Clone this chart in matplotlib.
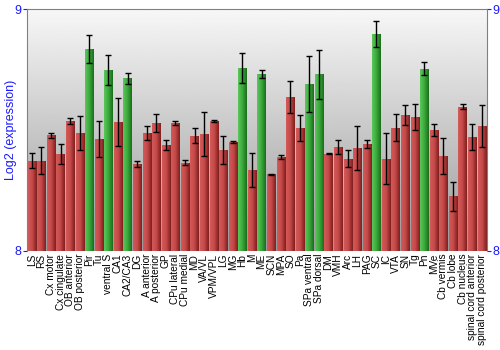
import numpy as np
import matplotlib
matplotlib.use("Agg")
import matplotlib.pyplot as plt
from matplotlib.colors import LinearSegmentedColormap

plt.rcParams['font.family'] = ['Liberation Sans', 'DejaVu Sans']

# 脑区名称
regions = ["LS", "RS", "Cx motor", "Cx cingulate", "OB anterior", "OB posterior",
           "Pir", "Tu", "ventral S", "CA1", "CA2/CA3", "DG", "A anterior",
           "A posterior", "GP", "CPu lateral", "CPu medial", "MD", "VA/VL",
           "VPM/VPL", "LG", "MG", "Hb", "M", "ME", "SCN", "MPA", "SO", "Pa",
           "SPa ventral", "SPa dorsal", "DM", "VMH", "Arc", "LH", "PAG", "SC",
           "IC", "VTA", "SN", "Tg", "Pn", "MVe", "Cb vermis", "Cb lobe",
           "Cb nucleus", "spinal cord anterior", "spinal cord posterior"]

# 表达量 (log2)
expression = [8.373, 8.373, 8.479, 8.402, 8.538, 8.490, 8.835, 8.465, 8.749,
              8.533, 8.715, 8.359, 8.489, 8.530, 8.439, 8.530, 8.366, 8.477,
              8.486, 8.537, 8.419, 8.450, 8.759, 8.335, 8.732, 8.318, 8.389,
              8.638, 8.509, 8.690, 8.732, 8.403, 8.431, 8.382, 8.425, 8.443,
              8.899, 8.382, 8.511, 8.562, 8.555, 8.754, 8.500, 8.393, 8.227,
              8.598, 8.472, 8.519]

# 误差
errors = [0.031, 0.056, 0.010, 0.041, 0.014, 0.070, 0.058, 0.075, 0.062,
          0.099, 0.022, 0.012, 0.030, 0.036, 0.021, 0.010, 0.012, 0.032,
          0.091, 0.005, 0.058, 0.005, 0.062, 0.070, 0.017, 0.002, 0.009,
          0.066, 0.054, 0.116, 0.101, 0.003, 0.030, 0.035, 0.091, 0.018,
          0.054, 0.106, 0.056, 0.041, 0.053, 0.027, 0.026, 0.075, 0.060,
          0.011, 0.052, 0.087]

# 高表达区域 (绿色)
highlighted = ["Pir", "ventral S", "CA2/CA3", "Hb", "ME", "SPa ventral",
               "SPa dorsal", "SC", "Pn"]

fig = plt.figure(figsize=(5, 3.5), dpi=100)
ax = fig.add_axes([0.054, 0.283, 0.919, 0.69])

ymin, ymax = 8, 9
x = np.arange(len(regions))

# 背景渐变
bg = np.linspace(0.97, 0.6, 256).reshape(-1, 1)
ax.imshow(bg, cmap="gray", vmin=0, vmax=1, aspect="auto",
          extent=[-0.5, len(regions) - 0.5, ymin, ymax], zorder=0)

red_cmap = LinearSegmentedColormap.from_list("r", ["#d45a5a", "#c44848", "#7e1e1e"])
green_cmap = LinearSegmentedColormap.from_list("g", ["#5cc85c", "#3aa83a", "#1a6e1a"])
grad = np.linspace(0, 1, 64).reshape(1, -1)

bars = ax.bar(x, [v - ymin for v in expression], bottom=ymin, width=0.86,
              color="none", edgecolor="none", zorder=2)
for name, b in zip(regions, bars):
    cmap = green_cmap if name in highlighted else red_cmap
    x0 = b.get_x()
    im = ax.imshow(grad, cmap=cmap, aspect="auto",
                   extent=[x0, x0 + b.get_width(), ymin, ymin + b.get_height()],
                   zorder=2)
    im.set_clip_path(b)

ax.errorbar(x, expression, yerr=errors, fmt="none", ecolor="black",
            elinewidth=1, capsize=2, capthick=1, zorder=3)

ax.set_xlim(-0.5, len(regions) - 0.5)
ax.set_ylim(ymin, ymax)
ax.set_xticks(x)
ax.set_xticklabels(regions, rotation=90, fontsize=7.3)
ax.tick_params(axis="x", length=0, pad=2)
ax.set_yticks([8, 9])
ax.tick_params(axis="y", colors="#1a1aff", labelsize=9, length=3,
               right=True, labelright=True, pad=1)
for t in ax.get_yticklabels():
    t.set_color("#1a1aff")
ax.set_ylabel("Log2 (expression)", color="#1a1aff", fontsize=9, labelpad=-2)

for side in ["left", "right", "top"]:
    ax.spines[side].set_color("#808080")
ax.spines["bottom"].set_visible(False)

plt.savefig("out.png", dpi=100)
plt.close()
